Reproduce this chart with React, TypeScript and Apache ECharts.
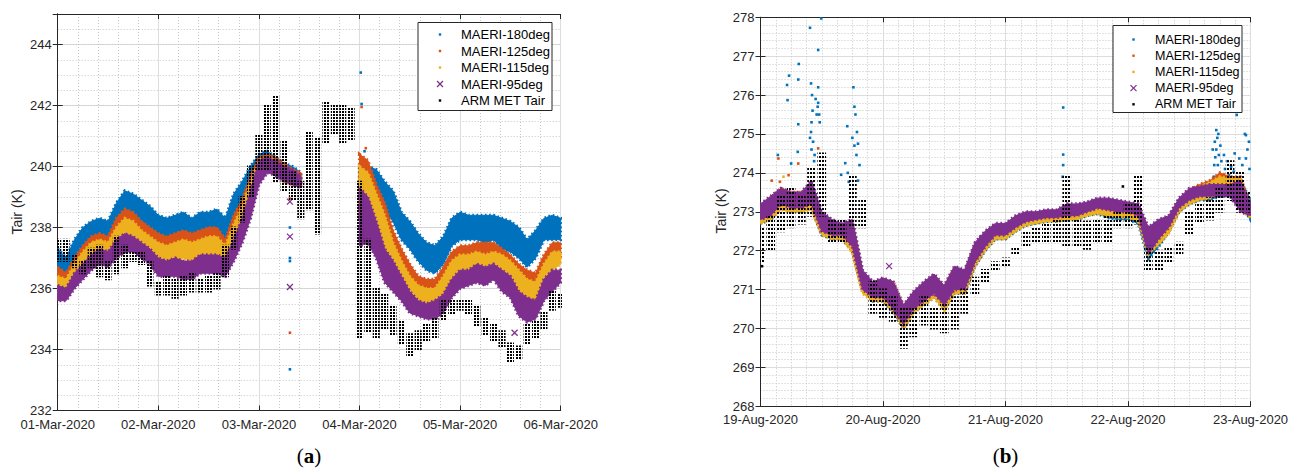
import React, { useEffect, useRef } from 'react';
import * as echarts from 'echarts';

type R = [number, number] | null;

// ---------- Panel (a): 01-Mar-2020 .. 06-Mar-2020, samples every 2 h, [low, high] of each point cloud ----------
const ticksA = ['01-Mar-2020', '02-Mar-2020', '03-Mar-2020', '04-Mar-2020', '05-Mar-2020', '06-Mar-2020'];
const stepA = 2;
const _ = null;

const a180: R[] = [
  [236.5,237.3],[236.4,237.0],[236.9,237.6],[237.3,238.0],[237.5,238.2],[237.6,238.3],[237.6,238.2],[238.1,238.8],[238.5,239.2],[238.4,239.1],[238.2,238.9],[238.0,238.7],
  [237.6,238.4],[237.6,238.3],[237.7,238.4],[237.7,238.5],[237.6,238.3],[237.7,238.5],[237.8,238.5],[237.8,238.6],[237.5,238.3],[238.2,239.1],[238.6,239.5],[239.2,240.0],
  [239.8,240.4],[240.1,240.5],[239.9,240.3],[239.6,240.1],[239.4,240.0],[239.4,239.8],_,_,_,_,_,_,
  [238.6,240.1],[238.8,240.0],[238.8,239.9],[238.5,239.5],[238.2,239.2],[237.6,238.5],[237.3,238.2],[236.9,237.8],[236.6,237.5],[236.5,237.4],[236.8,237.7],[237.4,238.3],
  [237.6,238.5],[237.6,238.4],[237.6,238.4],[237.5,238.4],[237.6,238.4],[237.3,238.3],[237.2,238.2],[237.0,238.0],[236.7,237.6],[237.0,237.9],[237.6,238.3],[237.6,238.4],
  [237.6,238.3],
];
const a125: R[] = [
  [236.1,236.7],[236.0,236.5],[236.4,237.0],[236.8,237.4],[237.1,237.7],[237.2,237.8],[237.1,237.7],[237.6,238.3],[237.9,238.6],[237.8,238.5],[237.5,238.2],[237.3,238.0],
  [237.0,237.8],[237.0,237.7],[237.1,237.8],[237.2,237.9],[237.1,237.8],[237.2,237.9],[237.3,238.0],[237.3,238.0],[237.0,237.6],[237.6,238.4],[238.2,238.9],[239.0,239.7],
  [239.8,240.3],[240.0,240.4],[239.9,240.3],[239.6,240.1],[239.5,239.9],[239.5,239.8],_,_,_,_,_,_,
  [238.5,240.4],[238.5,240.2],[238.0,239.4],[237.5,238.8],[237.0,237.9],[236.4,237.3],[235.9,236.8],[235.7,236.4],[235.6,236.3],[235.6,236.3],[236.0,236.7],[236.6,237.2],
  [236.8,237.4],[236.8,237.4],[236.9,237.5],[236.8,237.5],[236.9,237.5],[236.6,237.3],[236.4,237.1],[236.1,236.8],[235.9,236.6],[235.9,236.5],[236.4,237.1],[236.8,237.5],
  [237.0,237.5],
];
const a115: R[] = [
  [235.9,236.4],[235.9,236.3],[236.3,236.8],[236.7,237.2],[237.0,237.5],[237.1,237.6],[237.0,237.5],[237.4,238.0],[237.7,238.3],[237.6,238.2],[237.3,237.9],[237.1,237.7],
  [236.8,237.5],[236.8,237.4],[236.9,237.5],[237.0,237.6],[236.9,237.5],[237.0,237.6],[237.1,237.7],[237.1,237.7],[236.8,237.4],[237.4,238.1],[238.0,238.7],[238.8,239.5],
  [239.7,240.2],[239.9,240.3],[239.8,240.2],[239.5,240.0],[239.4,239.8],[239.4,239.7],_,_,_,_,_,_,
  [238.3,240.0],[238.3,239.8],[237.8,239.1],[237.2,238.4],[236.6,237.5],[236.1,236.9],[235.7,236.4],[235.5,236.1],[235.4,236.0],[235.4,236.0],[235.8,236.4],[236.3,236.9],
  [236.5,237.1],[236.5,237.1],[236.6,237.2],[236.5,237.1],[236.6,237.2],[236.4,237.1],[236.2,236.9],[235.9,236.6],[235.6,236.3],[235.6,236.2],[236.1,236.8],[236.6,237.2],
  [236.8,237.2],
];
const a95: R[] = [
  [235.6,236.1],[235.6,236.0],[236.0,236.5],[236.3,236.8],[236.6,237.1],[236.8,237.3],[236.7,237.2],[237.0,237.6],[237.2,237.8],[237.2,237.7],[237.0,237.5],[236.8,237.3],
  [236.4,237.0],[236.4,236.9],[236.4,237.0],[236.3,236.9],[236.3,236.9],[236.5,237.1],[236.5,237.1],[236.5,237.1],[236.4,237.0],[236.9,237.6],[237.5,238.3],[238.3,239.2],
  [239.4,240.2],[239.8,240.3],[239.7,240.2],[239.5,240.0],[239.4,239.9],[239.3,239.7],_,_,_,_,_,_,
  [237.4,239.3],[237.5,239.0],[237.0,238.2],[236.2,237.3],[235.9,236.9],[235.6,236.4],[235.2,235.9],[235.1,235.6],[235.0,235.5],[235.0,235.6],[235.2,235.8],[235.7,236.3],
  [236.0,236.6],[236.1,236.6],[236.2,236.8],[236.1,236.7],[236.3,236.8],[235.9,236.6],[235.7,236.4],[235.1,235.9],[234.9,235.7],[235.0,235.6],[235.6,236.3],[235.9,236.6],
  [236.2,236.6],
];
const aMet: R[] = [
  [236.9,237.6],[236.9,237.6],[236.7,237.1],[236.5,236.9],[236.7,237.3],[236.4,237.4],[236.3,236.9],[236.5,237.7],[236.7,237.4],[236.9,237.2],[236.8,237.2],[236.1,236.9],
  [235.8,236.2],[235.8,236.4],[235.7,236.3],[235.8,236.4],[235.9,236.5],[235.9,236.3],[235.9,236.4],[236.0,236.5],[236.4,237.4],[237.3,238.0],[238.2,239.0],[239.0,240.0],
  [239.9,241.0],[239.9,242.0],[239.5,242.3],[239.2,240.8],[238.9,239.8],[238.3,239.5],[238.6,241.1],[237.8,240.9],[240.8,242.1],[241.1,242.0],[240.8,242.0],[240.9,241.9],
  [234.4,239.5],[234.6,237.6],[234.4,236.0],[234.7,235.8],[234.5,235.4],[234.2,234.9],[233.8,234.5],[234.0,234.6],[234.3,234.8],[234.4,235.0],[235.0,235.6],[235.2,235.6],
  [235.3,235.6],[235.2,235.6],[234.8,235.4],[234.5,235.0],[234.3,234.8],[234.1,234.6],[233.6,234.2],[233.7,234.1],[234.2,234.8],[234.4,234.9],[234.7,235.2],[235.3,235.9],
  [235.4,235.8],
];
// isolated points (hours since 01-Mar 00:00, K)
const aOut180 = [[55.4,238.0],[55.4,237.0],[55.4,236.9],[55.4,233.35],[72.3,243.08],[72.5,242.05],[73.2,240.5],[74.6,239.9]];
const aOut125 = [[55.4,234.55],[55.4,238.95],[72.5,241.95],[73.5,240.6]];
const aOut95 = [[55.4,238.85],[55.4,237.7],[55.4,236.05],[109.0,234.55],[73.0,237.7]];

// ---------- Panel (b): 19-Aug-2020 .. 23-Aug-2020, samples every 2 h ----------
const ticksB = ['19-Aug-2020', '20-Aug-2020', '21-Aug-2020', '22-Aug-2020', '23-Aug-2020'];
const stepB = 2;

const b180: R[] = [
  [272.7,273.1],[272.8,273.3],[273.1,273.5],[273.0,273.4],[273.0,273.4],[273.1,273.7],[272.4,272.9],[272.3,272.7],[272.3,272.6],[272.0,272.7],[271.0,271.4],[270.7,271.1],
  [270.7,271.2],[270.4,271.1],[270.0,270.5],[270.4,270.85],[270.6,271.1],[270.8,271.3],[270.5,271.0],[270.9,271.5],[270.9,271.4],[271.6,272.1],[272.0,272.4],[272.3,272.6],
  [272.3,272.6],[272.5,272.8],[272.65,272.9],[272.7,272.95],[272.75,273.0],[272.75,273.0],[272.8,273.1],[272.8,273.1],[272.9,273.2],[272.95,273.25],[272.85,273.2],[272.8,273.1],
  [272.8,273.1],[272.7,273.0],[271.8,272.3],[272.1,272.5],[272.5,272.8],[273.0,273.3],[273.2,273.5],[273.3,273.6],[273.3,273.7],[273.4,273.8],[273.4,273.9],[273.2,273.8],
  [272.8,273.3],
];
const b125: R[] = [
  [272.75,273.1],[272.85,273.35],[273.1,273.6],[273.05,273.5],[273.05,273.5],[273.1,273.7],[272.45,272.9],[272.35,272.7],[272.35,272.65],[272.0,272.7],[270.95,271.4],[270.75,271.1],
  [270.75,271.2],[270.45,271.2],[270.05,270.55],[270.45,270.9],[270.65,271.15],[270.85,271.35],[270.5,271.05],[270.95,271.55],[270.95,271.45],[271.65,272.15],[272.05,272.45],[272.35,272.65],
  [272.35,272.6],[272.55,272.8],[272.7,272.95],[272.75,272.95],[272.8,273.0],[272.8,273.0],[272.85,273.1],[272.85,273.1],[272.95,273.2],[273.0,273.3],[272.95,273.25],[272.9,273.2],
  [272.9,273.15],[272.8,273.1],[271.95,272.5],[272.2,272.6],[272.5,272.85],[273.05,273.3],[273.25,273.55],[273.35,273.7],[273.4,273.8],[273.5,274.0],[273.5,273.9],[273.1,273.9],
  [272.9,273.15],
];
const b115: R[] = [
  [272.7,273.05],[272.8,273.3],[273.05,273.55],[273.0,273.45],[273.0,273.45],[273.05,273.6],[272.4,272.85],[272.3,272.65],[272.3,272.6],[271.95,272.65],[270.9,271.35],[270.7,271.05],
  [270.7,271.15],[270.45,271.15],[270.0,270.5],[270.4,270.85],[270.6,271.1],[270.8,271.3],[270.45,271.0],[270.9,271.5],[270.9,271.4],[271.6,272.1],[272.0,272.4],[272.3,272.6],
  [272.3,272.55],[272.5,272.75],[272.65,272.9],[272.7,272.9],[272.75,272.95],[272.75,272.95],[272.8,273.05],[272.8,273.05],[272.9,273.15],[272.95,273.25],[272.9,273.2],[272.85,273.15],
  [272.85,273.1],[272.75,273.05],[271.9,272.45],[272.15,272.55],[272.45,272.8],[273.0,273.25],[273.2,273.5],[273.3,273.65],[273.35,273.75],[273.45,273.9],[273.45,273.85],[273.05,273.85],
  [272.85,273.1],
];
const b95: R[] = [
  [272.8,273.2],[272.9,273.4],[273.2,273.6],[273.1,273.5],[273.1,273.5],[273.2,273.8],[272.5,273.0],[272.4,272.8],[272.4,272.7],[272.1,272.8],[271.0,271.5],[270.8,271.2],
  [270.8,271.3],[270.5,271.2],[270.1,270.6],[270.5,270.95],[270.7,271.2],[270.9,271.4],[270.6,271.1],[271.0,271.6],[271.0,271.5],[271.7,272.2],[272.1,272.5],[272.4,272.7],
  [272.4,272.7],[272.6,272.9],[272.75,273.0],[272.8,273.0],[272.85,273.05],[272.85,273.05],[272.9,273.2],[272.9,273.2],[273.0,273.25],[273.1,273.35],[273.05,273.35],[273.0,273.3],
  [273.0,273.25],[272.9,273.2],[271.9,272.6],[272.3,272.8],[272.6,272.9],[273.1,273.35],[273.3,273.6],[273.4,273.65],[273.4,273.7],[273.4,273.7],[273.4,273.7],[273.0,273.8],
  [272.9,273.2],
];
const bMet: R[] = [
  [271.7,272.6],[272.0,272.9],[272.5,273.4],[272.6,273.6],[272.7,273.4],[272.9,274.1],[272.9,274.5],[272.2,272.8],[272.2,272.8],[272.6,273.9],[272.6,273.3],[270.4,271.2],
  [270.3,271.0],[270.2,270.8],[269.5,270.5],[269.8,270.5],[270.1,270.8],[270.0,270.5],[269.9,270.6],[270.0,270.8],[270.4,271.0],[270.9,271.3],[271.2,271.5],[271.5,271.7],
  [271.6,271.8],[271.9,272.05],[272.1,272.5],[272.2,272.6],[272.2,272.7],[272.2,272.8],[272.1,273.9],[272.1,272.8],[272.05,272.75],[272.2,272.8],[272.2,272.9],[272.6,273.0],
  [272.6,273.2],[272.7,273.9],[271.5,272.1],[271.5,272.0],[271.7,272.05],[271.9,272.2],[272.4,273.0],[272.75,273.2],[272.8,273.35],[273.0,273.6],[273.3,274.3],[273.0,274.0],
  [273.0,273.5],
];
// isolated points (hours since 19-Aug 00:00, K)
const bOut180 = [
  [3.4,274.46],[5.2,276.26],[5.3,275.87],[5.6,276.5],[6.0,274.24],[7.3,274.54],[7.4,276.4],[7.5,276.8],[7.4,275.25],[9.7,277.73],[9.9,276.3],[10.1,276.0],
  [10.0,275.3],[9.9,275.05],[10.3,274.8],[10.0,274.6],[10.6,274.46],[10.5,274.3],[9.7,274.9],[11.3,277.16],[11.9,277.97],[11.3,276.2],[11.2,275.7],[11.5,275.5],
  [11.3,275.8],[11.0,275.5],[11.6,275.3],[10.2,275.6],[10.8,275.9],[16.6,274.25],[17.0,275.2],[17.1,274.0],[17.3,273.77],[15.8,273.95],[18.2,276.2],[18.4,275.7],
  [18.6,275.5],[18.9,275.05],[19.1,274.75],[18.8,274.46],[18.4,274.7],[19.4,274.2],[19.1,273.8],[18.0,274.9],[59.3,275.68],[59.3,274.47],[59.3,274.2],[59.2,273.9],
  [93.3,275.49],[89.3,275.1],[89.5,274.9],[89.3,274.6],[89.8,274.46],[90.3,274.3],[90.8,274.46],[92.2,274.16],[92.7,274.03],[93.8,274.37],[95.1,274.97],[95.4,274.6],
  [95.1,274.37],[95.7,274.8],[89.9,273.94],[90.6,273.77],[88.9,274.2],[91.8,273.94],[94.9,275.0],[89.0,274.8],[89.7,275.0],[88.6,274.6],[89.1,274.4],[90.1,274.7],
  [91.0,274.1],[91.5,274.3],[92.9,274.5],[94.4,274.2],[95.8,274.1],[88.8,273.9],[89.6,274.2],
];
const bOut125 = [[3.5,274.37],[7.4,274.24],[5.5,273.94],[3.8,273.77],[11.3,274.63],[2.2,273.8]];
const bOut115 = [[1.9,273.34],[4.5,273.9]];
const bOut95 = [[43.4,272.3],[25.2,271.6],[64.8,273.1]];
const bOutMet = [[71.0,273.65],[0.3,271.6]];

const names = ['MAERI-180deg', 'MAERI-125deg', 'MAERI-115deg', 'MAERI-95deg', 'ARM MET Tair'];
const C = ['#0072BD', '#D95319', '#EDB120', '#7E2F8E', '#000000'];
const FONT = '"Liberation Sans", Arial, Helvetica, sans-serif';
const TXT = '#262626';
const XPATH = 'path://M0,0L10,10M10,0L0,10';

function segmentsOf(arr: R[]) {
  const segs: number[][] = [];
  let s = -1;
  for (let i = 0; i <= arr.length; i++) {
    const ok = i < arr.length && arr[i] != null;
    if (ok && s < 0) s = i;
    if (!ok && s >= 0) { segs.push([s, i - 1]); s = -1; }
  }
  return segs;
}

function band(arr: R[], step: number, color: string, xi: number, yi: number, z: number) {
  return {
    type: 'custom', xAxisIndex: xi, yAxisIndex: yi, z, silent: true, clip: true,
    data: segmentsOf(arr),
    renderItem: (params: any, api: any) => {
      const s = api.value(0), e = api.value(1);
      const pts: number[][] = [];
      for (let i = s; i <= e; i++) pts.push(api.coord([i * step, (arr[i] as any)[1]]));
      for (let i = e; i >= s; i--) pts.push(api.coord([i * step, (arr[i] as any)[0]]));
      return {
        type: 'group',
        children: [
          { type: 'polygon', shape: { points: pts }, style: { fill: color, stroke: color, lineWidth: 1 } },
          { type: 'polygon', shape: { points: pts }, style: { fill: 'none', stroke: color, lineWidth: 3.2, lineDash: [1.6, 2.6] } },
        ],
      };
    },
  };
}

function columns(arr: R[], step: number, fill: any, frac: number, xi: number, yi: number, z: number) {
  const data = arr.map((p, i) => (p ? [i * step, p[0], p[1]] : null)).filter(Boolean);
  return {
    type: 'custom', xAxisIndex: xi, yAxisIndex: yi, z, silent: true, clip: true,
    data,
    renderItem: (params: any, api: any) => {
      const t = api.value(0), lo = api.value(1), hi = api.value(2);
      const a = api.coord([t, hi]);
      const b = api.coord([t, lo]);
      const w = api.size([step, 0])[0] * frac;
      return { type: 'rect', shape: { x: a[0] - w / 2, y: a[1] - 1, width: w, height: b[1] - a[1] + 2 }, style: { fill } };
    },
  };
}

function dots(data: number[][], color: string, xi: number, yi: number, z: number, cross = false) {
  return cross
    ? { type: 'scatter', xAxisIndex: xi, yAxisIndex: yi, z, silent: true, data, symbol: XPATH, symbolSize: 6,
        itemStyle: { color: 'transparent', borderColor: color, borderWidth: 1.2, opacity: 1 } }
    : { type: 'scatter', xAxisIndex: xi, yAxisIndex: yi, z, silent: true, data, symbol: 'rect', symbolSize: 2.6,
        itemStyle: { color, opacity: 1 } };
}

function dotPattern(w: number, h: number, d: number) {
  const c = document.createElement('canvas');
  c.width = w; c.height = h;
  const g = c.getContext('2d') as CanvasRenderingContext2D;
  g.fillStyle = '#000';
  g.fillRect(0, 0, d, d);
  return { image: c, repeat: 'repeat' };
}

const axisLine = { show: true, lineStyle: { color: TXT, width: 1 } };
const tick = { show: true, inside: true, length: 5, lineStyle: { color: TXT, width: 1 } };
const major = { show: true, lineStyle: { color: '#dddddd', width: 1 } };
const minor = { show: true, lineStyle: { color: '#c6c6c6', width: 1, type: [1, 2] } };
const label = { color: TXT, fontSize: 13, fontFamily: FONT };

function legend(x: number, y: number, w: number, h: number, row0: number, gap: number, mx: number, tx: number, fs: number) {
  const Z = 100;
  const children: any[] = [
    { type: 'rect', z: Z, shape: { x, y, width: w, height: h }, style: { fill: '#fff', stroke: TXT, lineWidth: 1 } },
  ];
  names.forEach((n, i) => {
    const cy = row0 + i * gap;
    if (i === 3) {
      children.push({ type: 'line', z: Z + 1, shape: { x1: mx - 3, y1: cy - 3, x2: mx + 3, y2: cy + 3 }, style: { stroke: C[i], lineWidth: 1.2 } });
      children.push({ type: 'line', z: Z + 1, shape: { x1: mx - 3, y1: cy + 3, x2: mx + 3, y2: cy - 3 }, style: { stroke: C[i], lineWidth: 1.2 } });
    } else {
      children.push({ type: 'rect', z: Z + 1, shape: { x: mx - 1.2, y: cy - 1.2, width: 2.4, height: 2.4 }, style: { fill: C[i] } });
    }
    children.push({ type: 'text', z: Z + 1, style: { text: n, x: tx, y: cy, font: `${fs}px ${FONT}`, fill: '#000', verticalAlign: 'middle', align: 'left' } });
  });
  return { type: 'group', z: Z, children };
}

function caption(x: number, y: number, letter: string) {
  return {
    type: 'text', z: 100,
    style: {
      text: `{p|(}{b|${letter}}{p|)}`, x, y, align: 'center', verticalAlign: 'middle',
      rich: {
        p: { fontFamily: '"Liberation Serif", "DejaVu Serif", serif', fontSize: 21, fill: '#000' },
        b: { fontFamily: '"Liberation Serif", "DejaVu Serif", serif', fontSize: 21, fontWeight: 'bold', fill: '#000' },
      },
    },
  };
}

function ylabel(x: number, y: number) {
  return {
    type: 'text', z: 100, x, y, rotation: Math.PI / 2,
    style: { text: 'Tair (K)', x: 0, y: 0, align: 'center', verticalAlign: 'middle', font: `14px ${FONT}`, fill: TXT },
  };
}

export default function App() {
  const ref = useRef<HTMLDivElement>(null);
  useEffect(() => {
    if (!ref.current) return;
    const chart = echarts.init(ref.current, undefined, { renderer: 'svg' });
    const patA = dotPattern(3, 3, 2);
    const patB = dotPattern(3, 4, 2);

    const option: any = {
      animation: false,
      backgroundColor: '#ffffff',
      grid: [
        { left: 57.7, top: 14, width: 503, height: 396.5 },
        { left: 760.5, top: 17.3, width: 490, height: 388.9 },
      ],
      xAxis: [
        { gridIndex: 0, type: 'value', min: 0, max: 120, interval: 24, position: 'bottom', axisLine, axisTick: tick,
          axisLabel: { ...label, margin: 7, showMinLabel: true, showMaxLabel: true, formatter: (v: number) => ticksA[Math.round(v / 24)] ?? '' },
          splitLine: major, minorTick: { show: false, splitNumber: 5 }, minorSplitLine: minor },
        { gridIndex: 0, type: 'value', min: 0, max: 120, interval: 24, position: 'top', axisLine, axisTick: tick,
          axisLabel: { show: false }, splitLine: { show: false } },
        { gridIndex: 1, type: 'value', min: 0, max: 96, interval: 24, position: 'bottom', axisLine, axisTick: tick,
          axisLabel: { ...label, margin: 7, showMinLabel: true, showMaxLabel: true, formatter: (v: number) => ticksB[Math.round(v / 24)] ?? '' },
          splitLine: major, minorTick: { show: false, splitNumber: 8 }, minorSplitLine: minor },
        { gridIndex: 1, type: 'value', min: 0, max: 96, interval: 24, position: 'top', axisLine, axisTick: tick,
          axisLabel: { show: false }, splitLine: { show: false } },
      ],
      yAxis: [
        { gridIndex: 0, type: 'value', min: 232, max: 245, interval: 2, position: 'left', axisLine, axisTick: tick,
          axisLabel: { ...label, margin: 6, formatter: (v: number) => (v % 2 === 0 ? String(v) : '') },
          splitLine: major },
        { gridIndex: 0, type: 'value', min: 232, max: 245, interval: 2, position: 'right', axisLine, axisTick: tick,
          axisLabel: { show: false }, splitLine: { show: false } },
        { gridIndex: 0, type: 'value', min: 232, max: 245, interval: 0.5, position: 'left',
          axisLine: { show: false }, axisTick: { show: false }, axisLabel: { show: false }, splitLine: minor },
        { gridIndex: 1, type: 'value', min: 268, max: 278, interval: 1, position: 'left', axisLine, axisTick: tick,
          axisLabel: { ...label, margin: 6 }, splitLine: major, minorTick: { show: false, splitNumber: 5 }, minorSplitLine: minor },
        { gridIndex: 1, type: 'value', min: 268, max: 278, interval: 1, position: 'right', axisLine, axisTick: tick,
          axisLabel: { show: false }, splitLine: { show: false } },
      ],
      series: [
        band(a180, stepA, C[0], 0, 0, 2),
        dots(aOut180, C[0], 0, 0, 2),
        band(a125, stepA, C[1], 0, 0, 3),
        dots(aOut125, C[1], 0, 0, 3),
        band(a115, stepA, C[2], 0, 0, 4),
        band(a95, stepA, C[3], 0, 0, 5),
        dots(aOut95, C[3], 0, 0, 5, true),
        columns(aMet, stepA, patA, 0.85, 0, 0, 6),

        band(b180, stepB, C[0], 2, 3, 2),
        dots(bOut180, C[0], 2, 3, 2),
        band(b125, stepB, C[1], 2, 3, 3),
        dots(bOut125, C[1], 2, 3, 3),
        band(b115, stepB, C[2], 2, 3, 4),
        dots(bOut115, C[2], 2, 3, 4),
        band(b95, stepB, C[3], 2, 3, 5),
        dots(bOut95, C[3], 2, 3, 5, true),
        columns(bMet, stepB, patB, 0.85, 2, 3, 6),
        dots(bOutMet, C[4], 2, 3, 6),
      ],
      graphic: [
        legend(418, 22.5, 134, 88, 34.5, 16.5, 440, 461, 13),
        legend(1113, 25.5, 129, 87, 39.5, 16.2, 1133.5, 1155, 12.5),
        ylabel(17, 212),
        ylabel(721, 211),
        caption(309, 456, 'a'),
        caption(1005.5, 456, 'b'),
      ],
    };
    chart.setOption(option);
    return () => chart.dispose();
  }, []);
  return <div ref={ref} style={{ position: 'fixed', left: 0, top: 0, width: 1298, height: 473, background: '#fff' }} />;
}
